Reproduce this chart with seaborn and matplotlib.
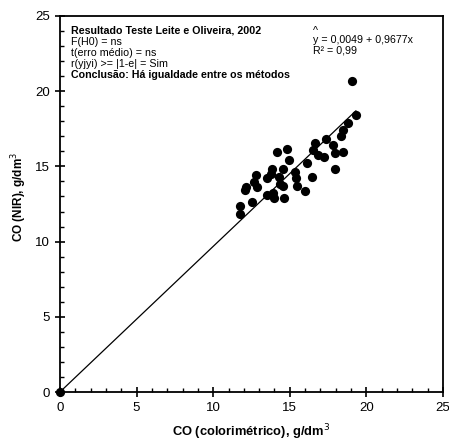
import matplotlib
matplotlib.use("Agg")
import matplotlib.pyplot as plt
import numpy as np
import pandas as pd
import seaborn as sns
from matplotlib.ticker import MultipleLocator

# CO colorimetric (x) vs CO NIR (y), g/dm3
co_color = [0.0, 19.04, 19.32, 18.82, 18.49, 18.32, 17.36, 16.64, 16.54, 17.84, 16.86,
            17.23, 17.95, 18.45, 17.95, 16.10, 16.47, 14.84, 14.19, 14.97, 14.58,
            15.34, 13.82, 13.75, 13.49, 14.32, 15.40, 14.36, 14.53, 15.45, 15.99,
            12.79, 12.66, 12.84, 12.14, 12.08, 13.53, 13.88, 13.97, 14.64, 12.51,
            11.75, 11.75]
co_nir = [0.0, 20.68, 18.42, 17.86, 17.42, 17.02, 16.80, 16.54, 16.09, 16.42, 15.76,
          15.65, 15.87, 15.98, 14.81, 15.20, 14.27, 16.14, 15.98, 15.43, 14.81,
          14.65, 14.81, 14.49, 14.21, 14.27, 14.21, 13.83, 13.70, 13.70, 13.38,
          14.43, 13.98, 13.61, 13.61, 13.43, 13.10, 13.21, 12.88, 12.88, 12.65,
          12.39, 11.82]

intercept = 0.0049
slope = 0.9677

stats_lines = ["F(H0) = ns", "t(erro médio) = ns", "r(yjyi) >= |1-e| = Sim"]

df = pd.DataFrame({"x": co_color, "y": co_nir})

sns.set_theme(style="white")
plt.rcParams["font.family"] = ["Liberation Sans", "DejaVu Sans"]
plt.rcParams.update({"text.color": "black", "axes.labelcolor": "black",
                     "xtick.color": "black", "ytick.color": "black"})

fig = plt.figure(figsize=(4.49, 4.44), dpi=100)
ax = fig.add_axes([0.1336, 0.1171, 0.8530, 0.8469])

sns.scatterplot(data=df, x="x", y="y", ax=ax, color="black", s=44,
                edgecolor="black", linewidth=0, zorder=3)
for coll in ax.collections:
    coll.set_clip_on(False)

xl = np.array([0.0, df["x"].max()])
ax.plot(xl, intercept + slope * xl, color="black", lw=0.9, zorder=2)

ax.set_xlim(0, 25)
ax.set_ylim(0, 25)
ax.xaxis.set_major_locator(MultipleLocator(5))
ax.yaxis.set_major_locator(MultipleLocator(5))
ax.xaxis.set_minor_locator(MultipleLocator(1))
ax.yaxis.set_minor_locator(MultipleLocator(1))
ax.tick_params(which="major", direction="inout", length=7, width=1.2,
               labelsize=9.5, color="black", labelcolor="black",
               bottom=True, left=True, pad=4)
ax.tick_params(which="minor", direction="in", length=3, width=1,
               color="black", bottom=True, left=True)
for sp in ax.spines.values():
    sp.set_color("black")
    sp.set_linewidth(1.3)

ax.set_xlabel("CO (colorimétrico), g/dm$^3$", fontsize=9.3, fontweight="bold", labelpad=6)
ax.set_ylabel("CO (NIR), g/dm$^3$", fontsize=8.5, fontweight="bold", labelpad=4, y=0.52)

fs = 7.7
x0 = 0.028
ax.text(x0, 0.954, "Resultado Teste Leite e Oliveira, 2002", transform=ax.transAxes,
        fontsize=fs, fontweight="bold", va="baseline")
for i, line in enumerate(stats_lines):
    ax.text(x0, 0.923 - i * 0.0295, line, transform=ax.transAxes, fontsize=fs, va="baseline")
ax.text(x0, 0.836, "Conclusão: Há igualdade entre os métodos", transform=ax.transAxes,
        fontsize=fs, fontweight="bold", va="baseline")

x1 = 0.66
ax.text(x1, 0.953, "^", transform=ax.transAxes, fontsize=fs, va="baseline")
ax.text(x1, 0.929, f"y = {intercept:.4f} + {slope:.4f}x".replace(".", ","),
        transform=ax.transAxes, fontsize=fs, va="baseline")
ax.text(x1, 0.900, "R² = 0,99", transform=ax.transAxes, fontsize=fs, va="baseline")

fig.savefig("out.png", dpi=100)
